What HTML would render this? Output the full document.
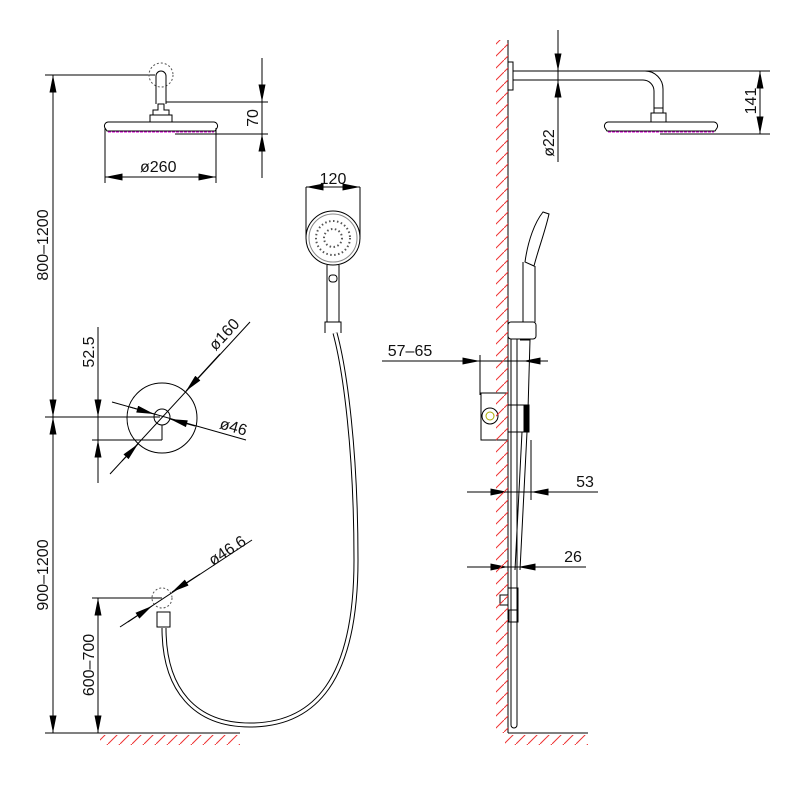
<!DOCTYPE html>
<html><head><style>body{margin:0;background:#fff}svg{display:block}text{font-family:"Liberation Sans",sans-serif;font-size:16px;fill:#111}</style></head><body>
<svg width="800" height="800" viewBox="0 0 800 800" xmlns="http://www.w3.org/2000/svg">
<defs>
<marker id="a" viewBox="0 0 10 4" refX="10" refY="2" markerWidth="18" markerHeight="7" markerUnits="userSpaceOnUse" orient="auto"><path d="M0,0L10,2L0,4z" fill="#000"/></marker>
<pattern id="h" width="12" height="12" patternUnits="userSpaceOnUse"><path d="M0,12L12,0" stroke="#e33" stroke-width="1"/></pattern>
</defs>
<g stroke="#000" stroke-width="1" fill="none">
<line x1="53" y1="75" x2="53" y2="733"/>
<line x1="45" y1="75" x2="155" y2="75"/>
<line x1="45" y1="417" x2="160" y2="417"/>
<line x1="45" y1="733" x2="108" y2="733"/>
<line x1="53" y1="160" x2="53" y2="75" marker-end="url(#a)"/>
<line x1="53" y1="380" x2="53" y2="417" marker-end="url(#a)"/>
<line x1="53" y1="460" x2="53" y2="417" marker-end="url(#a)"/>
<line x1="53" y1="690" x2="53" y2="733" marker-end="url(#a)"/>
<circle cx="161" cy="75" r="12" stroke-dasharray="2,2" stroke="#555"/>
<path d="M156,104V76a5,5 0 0 1 10,0V104"/>
<path d="M153,115V110h5v-6h6v6h5v5"/>
<path d="M150,122V115h22v7"/>
<path d="M108,122H214a4,4 0 0 1 3,6l-2,3H107l-2,-3a4,4 0 0 1 3,-6z"/>
<line x1="108" y1="132" x2="214" y2="132" stroke="#d0d" stroke-dasharray="3,1"/>
<line x1="262" y1="58" x2="262" y2="178"/>
<line x1="166" y1="102" x2="268" y2="102"/>
<line x1="175" y1="134" x2="268" y2="134"/>
<line x1="262" y1="85" x2="262" y2="102" marker-end="url(#a)"/>
<line x1="262" y1="150" x2="262" y2="134" marker-end="url(#a)"/>
<line x1="105" y1="128" x2="105" y2="183"/>
<line x1="216" y1="128" x2="216" y2="183"/>
<line x1="105" y1="177" x2="216" y2="177"/>
<line x1="130" y1="177" x2="105" y2="177" marker-end="url(#a)"/>
<line x1="190" y1="177" x2="216" y2="177" marker-end="url(#a)"/>
<circle cx="162" cy="418" r="35"/>
<circle cx="162" cy="417" r="8"/>
<line x1="162" y1="425" x2="162" y2="440"/>
<line x1="98" y1="327" x2="98" y2="483"/>
<line x1="92" y1="440" x2="162" y2="440"/>
<line x1="98" y1="395" x2="98" y2="417" marker-end="url(#a)"/>
<line x1="98" y1="462" x2="98" y2="440" marker-end="url(#a)"/>
<line x1="250" y1="322" x2="110" y2="474"/>
<line x1="220" y1="354" x2="186" y2="391" marker-end="url(#a)"/>
<line x1="122" y1="461" x2="138" y2="444" marker-end="url(#a)"/>
<line x1="112" y1="402" x2="246" y2="440"/>
<line x1="130" y1="407" x2="154" y2="414" marker-end="url(#a)"/>
<line x1="195" y1="426" x2="170" y2="419" marker-end="url(#a)"/>
<circle cx="333" cy="238" r="27"/>
<circle cx="333" cy="238" r="24" stroke="#888"/>
<circle cx="333" cy="238" r="17" stroke="#555" stroke-dasharray="1.5,2.5" stroke-width="2"/>
<circle cx="333" cy="238" r="9" stroke="#555" stroke-dasharray="1.5,2.5" stroke-width="2"/>
<path d="M327,265V322h12V265"/>
<rect x="329" y="275" width="8" height="7" rx="3"/>
<path d="M325,333V322h16v11"/>
<line x1="306" y1="187" x2="306" y2="237"/>
<line x1="360" y1="187" x2="360" y2="237"/>
<line x1="306" y1="187" x2="360" y2="187"/>
<line x1="325" y1="187" x2="306" y2="187" marker-end="url(#a)"/>
<line x1="340" y1="187" x2="360" y2="187" marker-end="url(#a)"/>
<path d="M335,333C345,370 356,450 356,560C356,680 315,725 250,725C195,725 164,690 164,628" stroke-width="5"/>
<path d="M335,333C345,370 356,450 356,560C356,680 315,725 250,725C195,725 164,690 164,628" stroke="#fff" stroke-width="3"/>
<rect x="157" y="612" width="13" height="15"/>
<circle cx="162" cy="598" r="10" stroke-dasharray="2,2" stroke="#555"/>
<line x1="120" y1="627" x2="252" y2="540"/>
<line x1="128" y1="622" x2="152" y2="606" marker-end="url(#a)"/>
<line x1="200" y1="574" x2="172" y2="592" marker-end="url(#a)"/>
<line x1="92" y1="598" x2="162" y2="598"/>
<line x1="98" y1="598" x2="98" y2="733"/>
<line x1="98" y1="630" x2="98" y2="598" marker-end="url(#a)"/>
<line x1="98" y1="700" x2="98" y2="733" marker-end="url(#a)"/>
<line x1="108" y1="733" x2="240" y2="733"/>
<line x1="508" y1="40" x2="508" y2="733"/>
<line x1="508" y1="733" x2="588" y2="733"/>
<rect x="508" y="62" width="5" height="28"/>
<path d="M513,71H645a18,18 0 0 1 18,18V108"/>
<path d="M513,80H643a11,11 0 0 1 11,11V108"/>
<path d="M654,108h9v5h-9z"/>
<path d="M651,122V113h15v9"/>
<path d="M608,122H714a4,4 0 0 1 3,6l-2,3H607l-2,-3a4,4 0 0 1 3,-6z"/>
<line x1="608" y1="132" x2="714" y2="132" stroke="#d0d" stroke-dasharray="3,1"/>
<line x1="645" y1="71" x2="770" y2="71"/>
<line x1="660" y1="134" x2="770" y2="134"/>
<line x1="760" y1="71" x2="760" y2="134"/>
<line x1="760" y1="95" x2="760" y2="71" marker-end="url(#a)"/>
<line x1="760" y1="110" x2="760" y2="134" marker-end="url(#a)"/>
<line x1="558" y1="30" x2="558" y2="162"/>
<line x1="558" y1="50" x2="558" y2="71" marker-end="url(#a)"/>
<line x1="558" y1="100" x2="558" y2="80" marker-end="url(#a)"/>
<path d="M525,262C528,240 535,222 543,212L549,214C545,232 538,250 534,266z"/>
<path d="M523,262V322M535,266V322"/>
<rect x="508" y="322" width="28" height="17" rx="3"/>
<path d="M511,339V725a3,3 0 0 0 6,0V339"/>
<path d="M520,340L530,340L528,410"/>
<rect x="481" y="393" width="27" height="47"/>
<circle cx="490" cy="416" r="8"/>
<circle cx="490" cy="416" r="4" stroke="#aa0"/>
<rect x="508" y="405" width="20" height="27"/>
<rect x="524" y="405" width="5" height="27" fill="#000"/>
<path d="M522,432L515,570M527,432L520,570"/>
<rect x="508" y="588" width="10" height="22"/>
<rect x="500" y="595" width="8" height="10"/>
<rect x="509" y="610" width="9" height="12"/>
<line x1="382" y1="361" x2="548" y2="361"/>
<line x1="480" y1="355" x2="480" y2="395"/>
<line x1="458" y1="361" x2="480" y2="361" marker-end="url(#a)"/>
<line x1="545" y1="361" x2="523" y2="361" marker-end="url(#a)"/>
<line x1="467" y1="492" x2="598" y2="492"/>
<line x1="531" y1="440" x2="531" y2="500"/>
<line x1="486" y1="492" x2="508" y2="492" marker-end="url(#a)"/>
<line x1="552" y1="492" x2="531" y2="492" marker-end="url(#a)"/>
<line x1="467" y1="567" x2="586" y2="567"/>
<line x1="486" y1="567" x2="508" y2="567" marker-end="url(#a)"/>
<line x1="540" y1="567" x2="518" y2="567" marker-end="url(#a)"/>
</g>
<rect x="496" y="40" width="12" height="693" fill="url(#h)"/>
<rect x="100" y="735" width="140" height="10" fill="url(#h)"/>
<rect x="505" y="735" width="83" height="10" fill="url(#h)"/>
<text x="140" y="172">ø260</text>
<text transform="translate(258,118) rotate(-90)" text-anchor="middle">70</text>
<text transform="translate(48,245) rotate(-90)" text-anchor="middle">800–1200</text>
<text transform="translate(48,575) rotate(-90)" text-anchor="middle">900–1200</text>
<text transform="translate(94,352) rotate(-90)" text-anchor="middle">52.5</text>
<text transform="translate(94,665) rotate(-90)" text-anchor="middle">600–700</text>
<text transform="translate(228,338) rotate(-47)" text-anchor="middle">ø160</text>
<text transform="translate(232,432) rotate(16)" text-anchor="middle">ø46</text>
<text transform="translate(230,555) rotate(-33)" text-anchor="middle">ø46.6</text>
<text x="333" y="184" text-anchor="middle">120</text>
<text transform="translate(756,101) rotate(-90)" text-anchor="middle">141</text>
<text transform="translate(554,143) rotate(-90)" text-anchor="middle">ø22</text>
<text x="410" y="356" text-anchor="middle">57–65</text>
<text x="585" y="487" text-anchor="middle">53</text>
<text x="573" y="562" text-anchor="middle">26</text>
</svg>
</body></html>
